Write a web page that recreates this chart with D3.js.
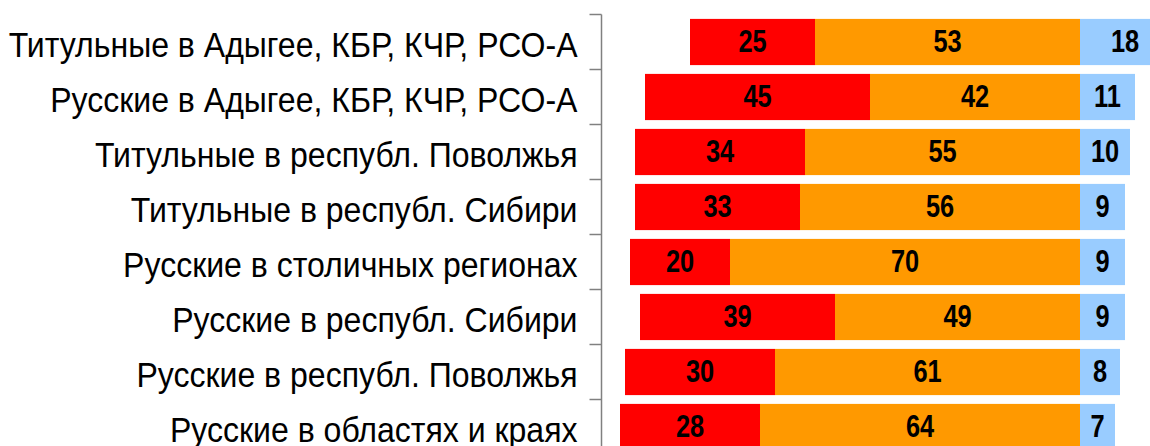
<!DOCTYPE html>
<html>
<head>
<meta charset="utf-8">
<script src="https://cdn.jsdelivr.net/npm/d3@7"></script>
<style>
  html, body { margin: 0; padding: 0; background: #fff; overflow: hidden; }
  svg { display: block; }
</style>
</head>
<body>
<svg id="chart"></svg>
<script>
// Категории (сверху вниз)
const categories = [
  'Титульные в Адыгее, КБР, КЧР, РСО-А',
  'Русские в Адыгее, КБР, КЧР, РСО-А',
  'Титульные в республ. Поволжья',
  'Титульные в республ. Сибири',
  'Русские в столичных регионах',
  'Русские в республ. Сибири',
  'Русские в республ. Поволжья',
  'Русские в областях и краях'
]

// Значения серий
const redValues = [25, 45, 34, 33, 20, 39, 30, 28]
const orangeValues = [53, 42, 55, 56, 70, 49, 61, 64]
const blueValues = [18, 11, 10, 9, 9, 9, 8, 7]

const width = 1150
const height = 446
// узкий шрифт: Liberation Sans, сжатый по горизонтали
const FONT = "'Liberation Sans', Arial, sans-serif"

const svg = d3.select('#chart').attr('width', width).attr('height', height)

// Шкалы: ноль на границе оранжевого и голубого
const x = d3.scaleLinear().domain([-100, 20]).range([580, 1180])
const y = d3.scaleBand().domain(categories).range([14.5, 14.5 + 55 * categories.length]).paddingInner(0.16).paddingOuter(0.08)

const rows = categories.map((name, i) => ({
  name,
  segs: [
    { key: 'red', from: -(redValues[i] + orangeValues[i]), to: -orangeValues[i], v: redValues[i], color: '#FF0000' },
    { key: 'orange', from: -orangeValues[i], to: 0, v: orangeValues[i], color: '#FF9900' },
    { key: 'blue', from: 0, to: blueValues[i], v: blueValues[i], color: '#99CCFF' }
  ]
}))

const row = svg.selectAll('g.row')
  .data(rows)
  .enter()
  .append('g')
  .attr('class', 'row')
  .attr('transform', d => `translate(0,${y(d.name)})`)

row.selectAll('rect')
  .data(d => d.segs)
  .enter()
  .append('rect')
  .attr('x', d => x(d.from))
  .attr('width', d => x(d.to) - x(d.from))
  .attr('y', 0)
  .attr('height', y.bandwidth())
  .attr('fill', d => d.color)

row.selectAll('text.val')
  .data(d => d.segs)
  .enter()
  .append('text')
  .attr('class', 'val')
  .attr('transform', d => `translate(${(x(d.from) + x(d.to)) / 2},${y.bandwidth() / 2}) scale(0.82,1)`)
  .attr('dy', '0.33em')
  .attr('text-anchor', 'middle')
  .attr('font-family', FONT)
  .attr('font-weight', 'bold')
  .attr('font-size', '31px')
  .attr('fill', '#000')
  .text(d => d.v)

// Ось Y слева
const axisX = 601.5
const axis = svg.append('g').attr('transform', `translate(${axisX},0)`)
axis.append('line')
  .attr('x1', 0).attr('x2', 0)
  .attr('y1', 14.5).attr('y2', height)
  .attr('stroke', '#808080')
  .attr('stroke-width', 1.5)

const bounds = d3.range(categories.length + 1).map(i => 14.5 + 55 * i)
axis.selectAll('line.tick')
  .data(bounds)
  .enter()
  .append('line')
  .attr('class', 'tick')
  .attr('x1', -12).attr('x2', 0)
  .attr('y1', d => d).attr('y2', d => d)
  .attr('stroke', '#808080')
  .attr('stroke-width', 1.5)

axis.selectAll('text.cat')
  .data(categories)
  .enter()
  .append('text')
  .attr('class', 'cat')
  .attr('transform', d => `translate(-24,${y(d) + y.bandwidth() / 2}) scale(0.89,1)`)
  .attr('dy', '0.41em')
  .attr('text-anchor', 'end')
  .attr('font-family', FONT)
  .attr('font-size', '36px')
  .attr('fill', '#000')
  .text(d => d)
</script>
</body>
</html>
